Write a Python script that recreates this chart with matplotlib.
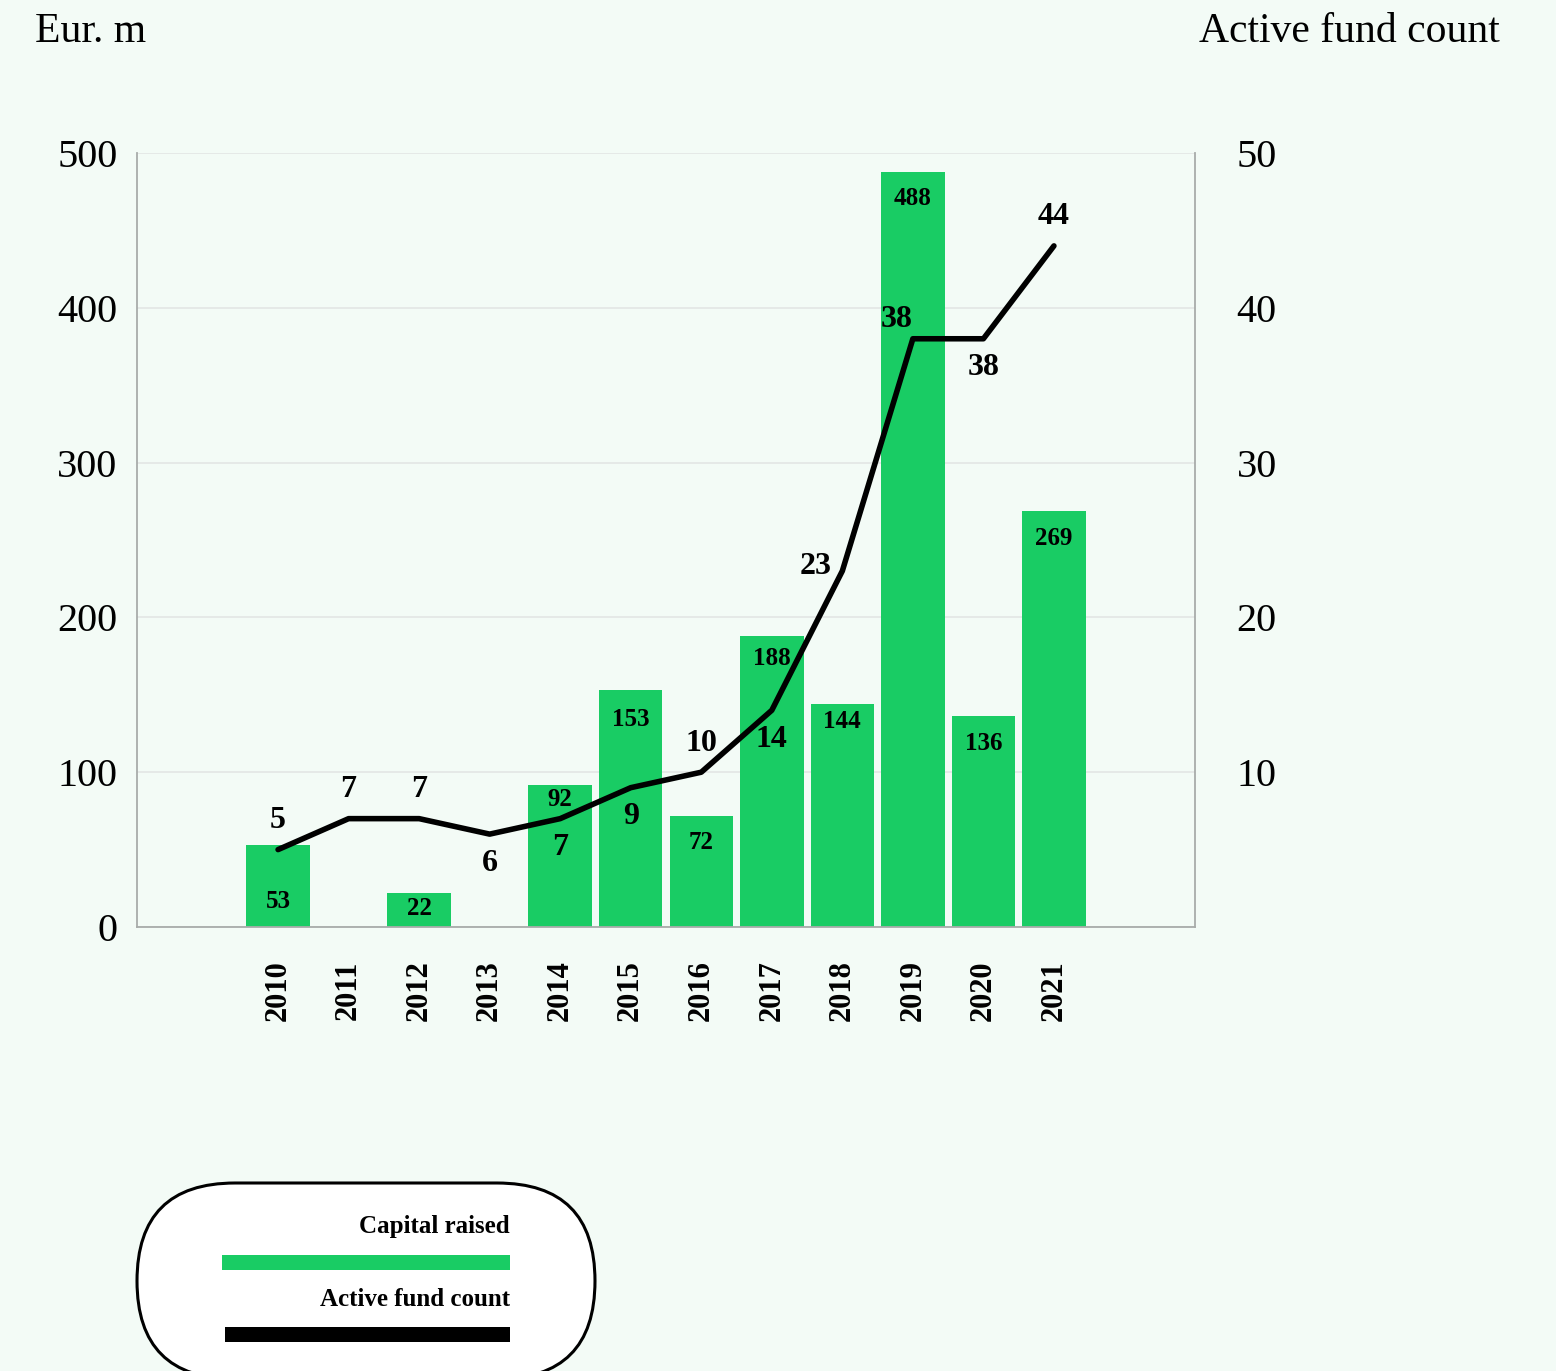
import matplotlib
matplotlib.use("Agg")
import matplotlib.pyplot as plt
from matplotlib.patches import FancyBboxPatch, Rectangle
import numpy as np

# data
years = ["2010", "2011", "2012", "2013", "2014", "2015",
         "2016", "2017", "2018", "2019", "2020", "2021"]
capital_raised = [53, 0, 22, 0, 92, 153, 72, 188, 144, 488, 136, 269]
fund_count = [5, 7, 7, 6, 7, 9, 10, 14, 23, 38, 38, 44]

# label placement for the line values (style, not data)
count_label_side = ["above", "above", "above", "below", "below", "below",
                    "above", "below", "left", "aboveleft", "below", "above"]

bg = "#F3FBF6"
green = "#19CC64"
font = "Liberation Serif"
plt.rcParams["font.family"] = [font, "DejaVu Serif"]

fig = plt.figure(figsize=(15.56, 13.71), dpi=100, facecolor=bg)
W, H = 1556, 1371

ax = fig.add_axes([137 / W, 1 - 927 / H, (1195 - 137) / W, (927 - 153) / H])
ax.set_facecolor(bg)
x = np.arange(len(years))

bars = ax.bar(x, capital_raised, width=0.9, color=green, zorder=2)
ax.set_xlim(-2, len(years) + 1)
ax.set_ylim(0, 500)
ax.set_yticks([0, 100, 200, 300, 400, 500])
ax.grid(axis="y", color="#E3E6E4", linewidth=1.2, zorder=0)
ax.set_xticks(x)
ax.set_xticklabels(years, rotation=90, fontsize=22, fontweight="bold")
ax.tick_params(axis="x", length=0, pad=24)
ax.tick_params(axis="y", length=0, pad=14, labelsize=29)
for s in ["left", "bottom", "right"]:
    ax.spines[s].set_color("#A8ACAA")
    ax.spines[s].set_linewidth(1.3)
ax.spines["top"].set_visible(False)

# bar value labels inside the top of bars
bar_label_drop = [57, 0, 16, 0, 15, 29, 27, 23, 17, 27, 27, 28]
for xi, v, d in zip(x, capital_raised, bar_label_drop):
    if v == 0:
        continue
    ax.annotate(str(v), (xi, v), xytext=(0, -d * 0.72), textcoords="offset points",
                ha="center", va="center", fontsize=18, fontweight="bold", zorder=4)

ax2 = ax.twinx()
ax2.set_ylim(0, 50)
ax2.set_yticks([10, 20, 30, 40, 50])
ax2.tick_params(axis="y", length=0, pad=30, labelsize=29)
for s in ax2.spines.values():
    s.set_visible(False)
ax2.plot(x, fund_count, color="black", linewidth=4, zorder=3, solid_capstyle="round")

offsets = {"above": (0, 21), "below": (0, -21), "left": (-19, 3),
           "aboveleft": (-12, 14)}
for xi, v, side in zip(x, fund_count, count_label_side):
    dx, dy = offsets[side]
    ax2.annotate(str(v), (xi, v), xytext=(dx, dy), textcoords="offset points",
                 ha="center", va="center", fontsize=23, fontweight="bold")

fig.text(35 / W, 1 - 32 / H, "Eur. m", fontsize=30, ha="left", va="center")
fig.text(1500 / W, 1 - 32 / H, "Active fund count", fontsize=30, ha="right", va="center")

# legend box in pixel coordinates
lax = fig.add_axes([0, 0, 1, 1], zorder=-1)
lax.set_xlim(0, W)
lax.set_ylim(H, 0)
lax.axis("off")
lax.add_patch(FancyBboxPatch((137, 1183), 458, 196,
                             boxstyle="round,pad=0,rounding_size=98",
                             facecolor="white", edgecolor="black", linewidth=2.2))
lax.text(510, 1227, "Capital raised", fontsize=18, fontweight="bold", ha="right", va="center")
lax.add_patch(Rectangle((222, 1255), 288, 15, facecolor=green, edgecolor="none"))
lax.text(510, 1300, "Active fund count", fontsize=18, fontweight="bold", ha="right", va="center")
lax.add_patch(Rectangle((225, 1327), 285, 15, facecolor="black", edgecolor="none"))

fig.savefig("out.png", dpi=100, facecolor=bg)
